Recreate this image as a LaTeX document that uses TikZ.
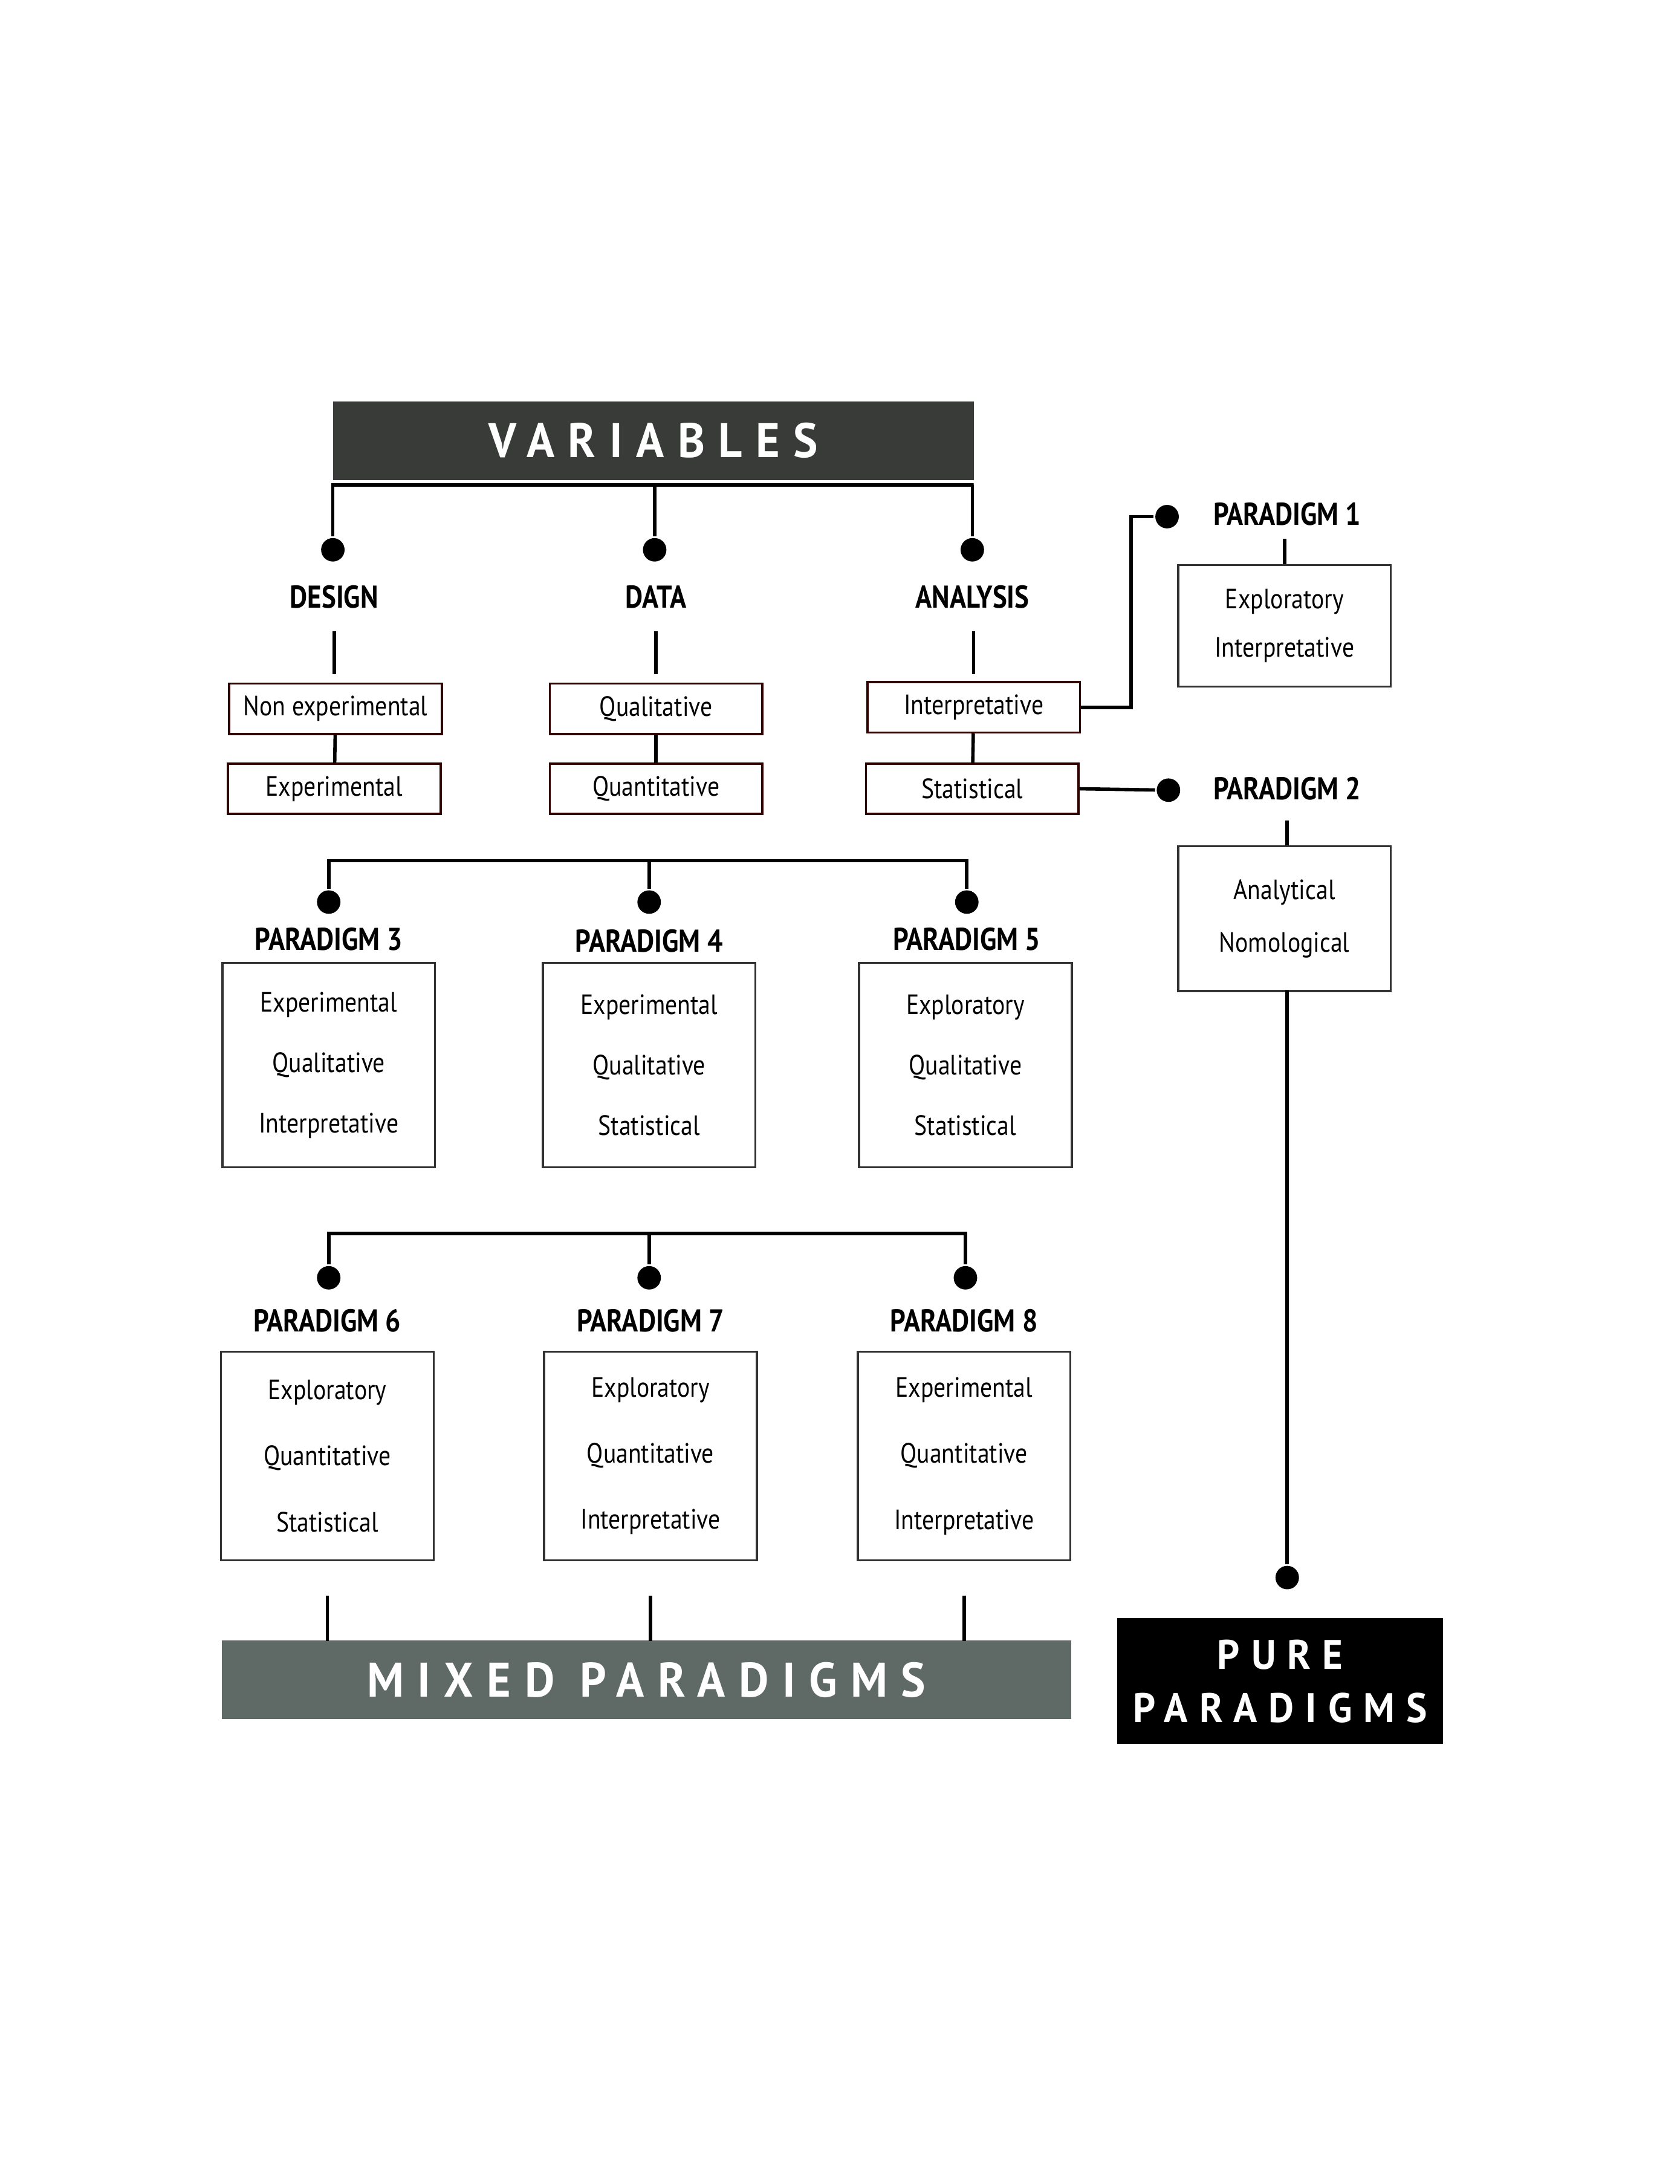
\documentclass[tikz,border=0pt]{standalone}
\usepackage{fontspec}
\setmainfont[FakeStretch=0.86]{PT Sans}
\newfontfamily\spacedfont[LetterSpace=28,FakeStretch=0.95]{PT Sans}
\usetikzlibrary{positioning}
\definecolor{vargray}{HTML}{383B38}
\definecolor{mixgray}{HTML}{5F6965}
\begin{document}
\begin{tikzpicture}[x=0.02cm,y=-0.02cm, line width=1.4pt,
  dot/.style={circle,fill=black,inner sep=0pt,minimum size=0.34cm},
  head/.style={font=\fontsize{13}{15}\selectfont\bfseries},
  small/.style={draw=black!80!red,line width=0.9pt,minimum width=3.08cm,minimum height=0.73cm,font=\fontsize{11.5}{13}\selectfont,inner sep=0pt},
  pbox/.style={draw=black!80,line width=0.9pt,minimum width=3.08cm,font=\fontsize{11.5}{13}\selectfont,inner sep=0pt,align=center},
  banner/.style={text=white,font=\spacedfont\bfseries\fontsize{20}{24}\selectfont,inner sep=0pt,align=center}]
\useasboundingbox (0,0) rectangle (1216,1581);
% variables
    \node[banner,fill=vargray,minimum width=9.28cm,minimum height=1.14cm] (var) at (473,319) {VARIABLES};
    \coordinate (vl) at (241,351);
    \coordinate (vr) at (705,351);
    \node[dot] (d1) at (241,398) {};
    \node[dot] (d2) at (474,398) {};
    \node[dot] (d3) at (704,398) {};
    \draw (d1) |- (vl) -- (vr) -| (d3);
    \draw (d2) -- (474,351);

    \node[head] (design) at (242,432) {DESIGN};
    \node[head] (data) at (475,432) {DATA};
    \node[head] (analysis) at (704,432) {ANALYSIS};

    \node[small] (nonexp) at (243,513) {Non experimental};
    \node[small] (exp) at (242,571) {Experimental};
    \node[small] (qual) at (475,513) {Qualitative};
    \node[small] (quant) at (475,571) {Quantitative};
    \node[small] (interp) at (705,512) {Interpretative};
    \node[small] (stat) at (704,571) {Statistical};
    \draw (242,457) -- (242,488);
    \draw (475,457) -- (475,488);
    \draw (705,457) -- (705,488);
    \draw (nonexp) -- (exp);
    \draw (qual) -- (quant);
    \draw (interp) -- (stat);

% pure paradigms
    \node[dot] (p1d) at (845,374) {};
    \node[dot] (p2d) at (846,572) {};
    \draw (interp.east) -- (819,512) |- (p1d);
    \draw (stat.east) -- (p2d);
    \node[head] (p1) at (932,372) {PARADIGM 1};
    \node[head] (p2) at (932,571) {PARADIGM 2};
    \node[pbox,minimum height=1.76cm] (p1b) at (930,453) {Exploratory\\[0.25cm]Interpretative};
    \node[pbox,minimum height=2.1cm] (p2b) at (930,665) {Analytical\\[0.3cm]Nomological};
    \draw (930,390) -- (p1b.north);
    \draw (932,594) -- (932,612);
    \node[dot] (pured) at (932,1142) {};
    \draw (932,717) -- (pured);
    \node[banner,fill=black,minimum width=4.72cm,minimum height=1.82cm,font=\spacedfont\bfseries\fontsize{17}{22}\selectfont] (pure) at (927,1217) {PURE\\PARADIGMS};

% mixed, row 1
    \coordinate (r1l) at (238,623);
    \coordinate (r1r) at (700,623);
    \node[dot] (d3a) at (238,653) {};
    \node[dot] (d4a) at (470,653) {};
    \node[dot] (d5a) at (700,653) {};
    \draw (d3a) |- (r1l) -- (r1r) -| (d5a);
    \draw (d4a) -- (470,623);
    \node[head] (p3) at (238,680) {PARADIGM 3};
    \node[head] (p4) at (470,681) {PARADIGM 4};
    \node[head] (p5) at (700,680) {PARADIGM 5};
    \node[pbox,minimum height=2.96cm] (p3b) at (238,771) {Experimental\\[0.42cm]Qualitative\\[0.42cm]Interpretative};
    \node[pbox,minimum height=2.96cm] (p4b) at (470,771) {Experimental\\[0.42cm]Qualitative\\[0.42cm]Statistical};
    \node[pbox,minimum height=2.96cm] (p5b) at (699,771) {Exploratory\\[0.42cm]Qualitative\\[0.42cm]Statistical};

% mixed, row 2
    \coordinate (r2l) at (238,893);
    \coordinate (r2r) at (699,893);
    \node[dot] (d6a) at (238,925) {};
    \node[dot] (d7a) at (470,925) {};
    \node[dot] (d8a) at (699,925) {};
    \draw (d6a) |- (r2l) -- (r2r) -| (d8a);
    \draw (d7a) -- (470,893);
    \node[head] (p6) at (237,956) {PARADIGM 6};
    \node[head] (p7) at (471,956) {PARADIGM 7};
    \node[head] (p8) at (698,956) {PARADIGM 8};
    \node[pbox,minimum height=3.02cm] (p6b) at (237,1054) {Exploratory\\[0.5cm]Quantitative\\[0.5cm]Statistical};
    \node[pbox,minimum height=3.02cm] (p7b) at (471,1054) {Exploratory\\[0.5cm]Quantitative\\[0.5cm]Interpretative};
    \node[pbox,minimum height=3.02cm] (p8b) at (698,1054) {Experimental\\[0.5cm]Quantitative\\[0.5cm]Interpretative};

    \node[banner,fill=mixgray,minimum width=12.3cm,minimum height=1.14cm] (mixed) at (468,1216) {MIXED PARADIGMS};
    \draw (237,1155) -- (237,1188);
    \draw (471,1155) -- (471,1188);
    \draw (698,1155) -- (698,1188);
\end{tikzpicture}
\end{document}
